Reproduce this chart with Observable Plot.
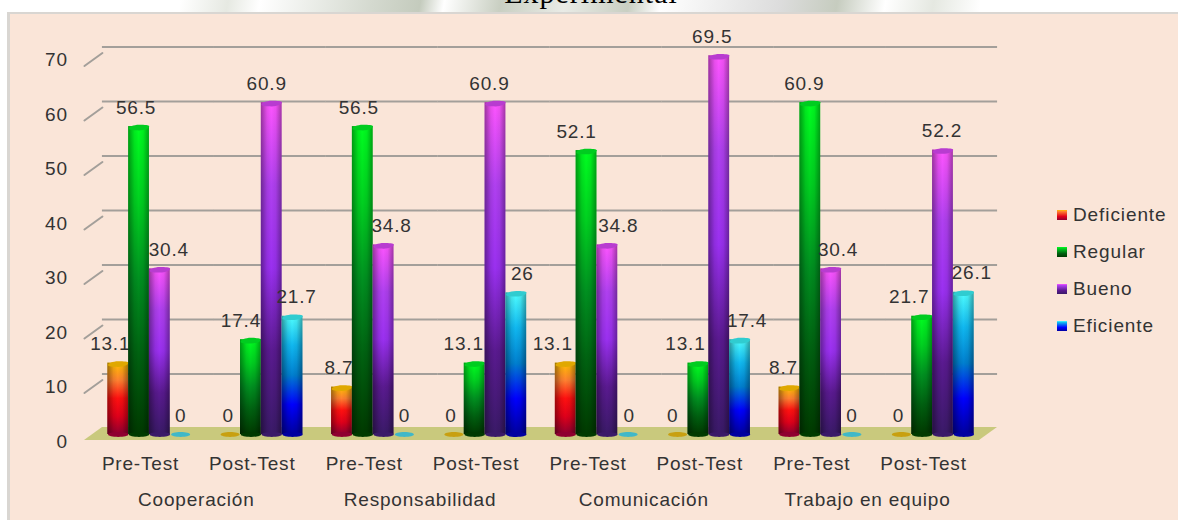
<!DOCTYPE html>
<html><head><meta charset="utf-8">
<script src="https://cdn.jsdelivr.net/npm/d3@7"></script>
<script src="https://cdn.jsdelivr.net/npm/@observablehq/plot@0.6"></script>
<style>
html,body{margin:0;padding:0;background:#fff;overflow:hidden}
#wrap{position:relative;width:1178px;height:520px;overflow:hidden;font-family:"Liberation Sans",Arial,sans-serif}
#mark{position:absolute;left:180px;top:0;width:800px;height:12px;background:linear-gradient(100deg,#fff 0,#e6e9e2 6%,#fff 10%,#d4d9cf 24%,#c4cbbd 30%,#fff 33%,#c9cfc2 40%,#e9ebe6 48%,#c9cfc2 56%,#fff 60%,#dcdcdc 75%,#c6ccbf 82%,#fff 88%,#e5e8e1 94%,#fff 100%)}
#panel{position:absolute;left:7px;top:12px;width:1171px;height:508px;background:#fae5d8;border-top:2px solid #d9d6d2;border-left:3px solid #d9d6d2;box-sizing:border-box}
#title{position:absolute;left:2px;width:1178px;top:-22px;height:34px;overflow:hidden;text-align:center;font:30px "Liberation Serif",serif;letter-spacing:1px;color:#000;line-height:30px}
#chart{position:absolute;left:0;top:0}
#chart svg{background:transparent;overflow:visible}
#legend{position:absolute;left:1057px;top:196px;color:#333;font-size:19px;letter-spacing:.9px}
#legend div{height:37px;line-height:37px;display:flex;align-items:center}
#legend i{display:inline-block;width:10px;height:10px;margin-right:6px}
</style></head><body>
<div id="wrap"><div id="mark"></div><div id="panel"></div><div id="title">Experimental</div><div id="chart"></div><div id="legend"></div></div>
<script>
const dimensions = ["Cooperación","Responsabilidad","Comunicación","Trabajo en equipo"];
const phases = ["Pre-Test","Post-Test"];
const levels = ["Deficiente","Regular","Bueno","Eficiente"];
const deficiente = [13.1,0,8.7,0,13.1,0,8.7,0];
const regular    = [56.5,17.4,56.5,13.1,52.1,13.1,60.9,21.7];
const bueno      = [30.4,60.9,34.8,60.9,34.8,69.5,30.4,52.2];
const eficiente  = [0,21.7,0,26,0,17.4,0,26.1];
const yTicks = [0,10,20,30,40,50,60,70];

// Drawing styles (not data)
const ramps = {
  Deficiente:["#8f0030","#e0001a","#ff1010","#ff8030","#ffc000"],
  Regular:["#003a00","#006010","#009020","#00d020","#00ff20"],
  Bueno:["#3a1a68","#5a1a90","#9a30f0","#b040f0","#ff55ff"],
  Eficiente:["#0000a0","#0000ff","#0080d0","#10b8f0","#50ffff"]
};
const caps = {Deficiente:"#e0a800",Regular:"#00cc20",Bueno:"#b83cd0",Eficiente:"#30ccd0"};
const feet = {Deficiente:"#8f0030",Regular:"#003a00",Bueno:"#3a1a68",Eficiente:"#0000a0"};
const flats = {Deficiente:"#c8a010",Eficiente:"#40b8c8"};
const labelDx = [[-8,-3,9,0],[-2,-10,-5,4],[-3,-4,8,0],[-3,-11,-6,6],[-13,-10,11,1],[-5,-13,-7,7],[-6,-6,7,0],[-3,-13,-1,8]];

const values = {Deficiente:deficiente,Regular:regular,Bueno:bueno,Eficiente:eficiente};
const keys = dimensions.flatMap(d => phases.map(p => d + "|" + p));
const rows = levels.flatMap((level,s) => keys.map((key,g) => ({key,level,value:values[level][g],dx:labelDx[g][s]})));
const groupRows = dimensions.map((d,i) => ({key:keys[i*2+1],name:d}));

const ellipse = (rx,ry,tilt) => ({draw(c){
  const k=.5523;
  c.moveTo(-rx,tilt);
  c.bezierCurveTo(-rx,tilt-ry*k,-rx*k,-ry,0,-ry);
  c.bezierCurveTo(rx*k,-ry,rx,-tilt-ry*k,rx,-tilt);
  c.bezierCurveTo(rx,-tilt+ry*k,rx*k,ry,0,ry);
  c.bezierCurveTo(-rx*k,ry,-rx,tilt+ry*k,-rx,tilt);
  c.closePath();
}});
const capSym = ellipse(10.2,2.8,1), footSym = ellipse(10.2,2.4,0), flatSym = ellipse(9.5,2.4,0);
const segment = (w,h) => ({draw(c){c.moveTo(0,0);c.lineTo(w,h);}});

const seriesMarks = levels.flatMap(level => {
  const all = rows.filter(r => r.level===level);
  const up = all.filter(r => r.value>0), zero = all.filter(r => r.value===0);
  return [
    Plot.barY(up,{fx:"key",x:"level",y:"value",fill:`url(#g-${level})`,dy:-1}),
    Plot.barY(up,{fx:"key",x:"level",y:"value",fill:"url(#shade)",dy:-1}),
    Plot.dot(up,{fx:"key",x:"level",y:()=>0,dy:-1,symbol:footSym,r:10,fill:feet[level],stroke:"none"}),
    Plot.dot(up,{fx:"key",x:"level",y:"value",symbol:capSym,r:10,fill:caps[level],stroke:"none"}),
    Plot.dot(zero,{fx:"key",x:"level",y:"value",dy:-1,symbol:flatSym,r:10,fill:flats[level]||"#888",stroke:"none"}),
    ...all.map(r => Plot.text([r],{fx:"key",x:"level",y:"value",text:d=>String(d.value),dy:-20,dx:r.dx,fontSize:19,fill:"#333",stroke:"none"}))
  ];
});

const chart = Plot.plot({
  width:1178,height:520,
  marginLeft:93,marginRight:190,marginTop:53.5,marginBottom:85,
  style:{fontFamily:'"Liberation Sans",Arial,sans-serif',letterSpacing:"0.8px",background:"transparent"},
  fx:{domain:keys,paddingInner:0.256,paddingOuter:0.128,round:false,axis:null,label:null},
  x:{domain:levels,padding:0,round:false,axis:null,label:null},
  y:{domain:[0,70],axis:null,label:null},
  marks:[
    Plot.ruleY(yTicks.slice(1),{dx:9,dy:-7,insetLeft:-14.4,insetRight:-14.4,stroke:"#a39f9a",strokeWidth:2,facet:false}),
    Plot.vector(yTicks.slice(1),{fx:()=>keys[0],y:d=>d,frameAnchor:"left",dx:-23.4,dy:6,shape:segment(18,-13),stroke:"#a39f9a",strokeWidth:2}),
    Plot.axisY({ticks:yTicks,tickSize:0,tickPadding:40,fontSize:19,fill:"#333",dy:6,label:null}),
    Plot.axisFx({anchor:"bottom",tickSize:0,tickPadding:21,dx:-9,fontSize:19,fill:"#333",label:null,tickFormat:k=>k.split("|")[1]}),
    Plot.text(groupRows,{fx:"key",text:"name",frameAnchor:"bottom",dy:70,dx:-65,fontSize:19,fill:"#333",stroke:"none"}),
    ...seriesMarks
  ]
});

const defs = d3.select(chart).insert("svg:defs",":first-child");
for (const level of levels){
  const g = defs.append("linearGradient").attr("id","g-"+level).attr("x1",0).attr("y1",1).attr("x2",0).attr("y2",0);
  ramps[level].forEach((col,i,a)=>g.append("stop").attr("offset",i/(a.length-1)).attr("stop-color",col));
}
const sh = defs.append("linearGradient").attr("id","shade").attr("x1",0).attr("y1",0).attr("x2",1).attr("y2",0);
[[0,.38],[.3,.08],[.5,0],[.72,.06],[1,.35]].forEach(([o,a])=>sh.append("stop").attr("offset",o).attr("stop-color","#000").attr("stop-opacity",a));

// floor drawn behind everything, from the y scale
const y0 = chart.scale("y").apply(0);
d3.select(chart).insert("polygon","g").attr("fill","#c9c97d")
  .attr("points",`84,${y0+5} 102,${y0-8} 997,${y0-8} 979,${y0+5}`);

document.getElementById("chart").append(chart);
const leg = d3.select("#legend");
for (const level of levels){
  const row = leg.append("div");
  row.append("i").style("background",`linear-gradient(0deg,${ramps[level][0]},${ramps[level][1]} 35%,${ramps[level][3]} 85%,${ramps[level][4]})`);
  row.append("span").text(level);
}
</script></body></html>
